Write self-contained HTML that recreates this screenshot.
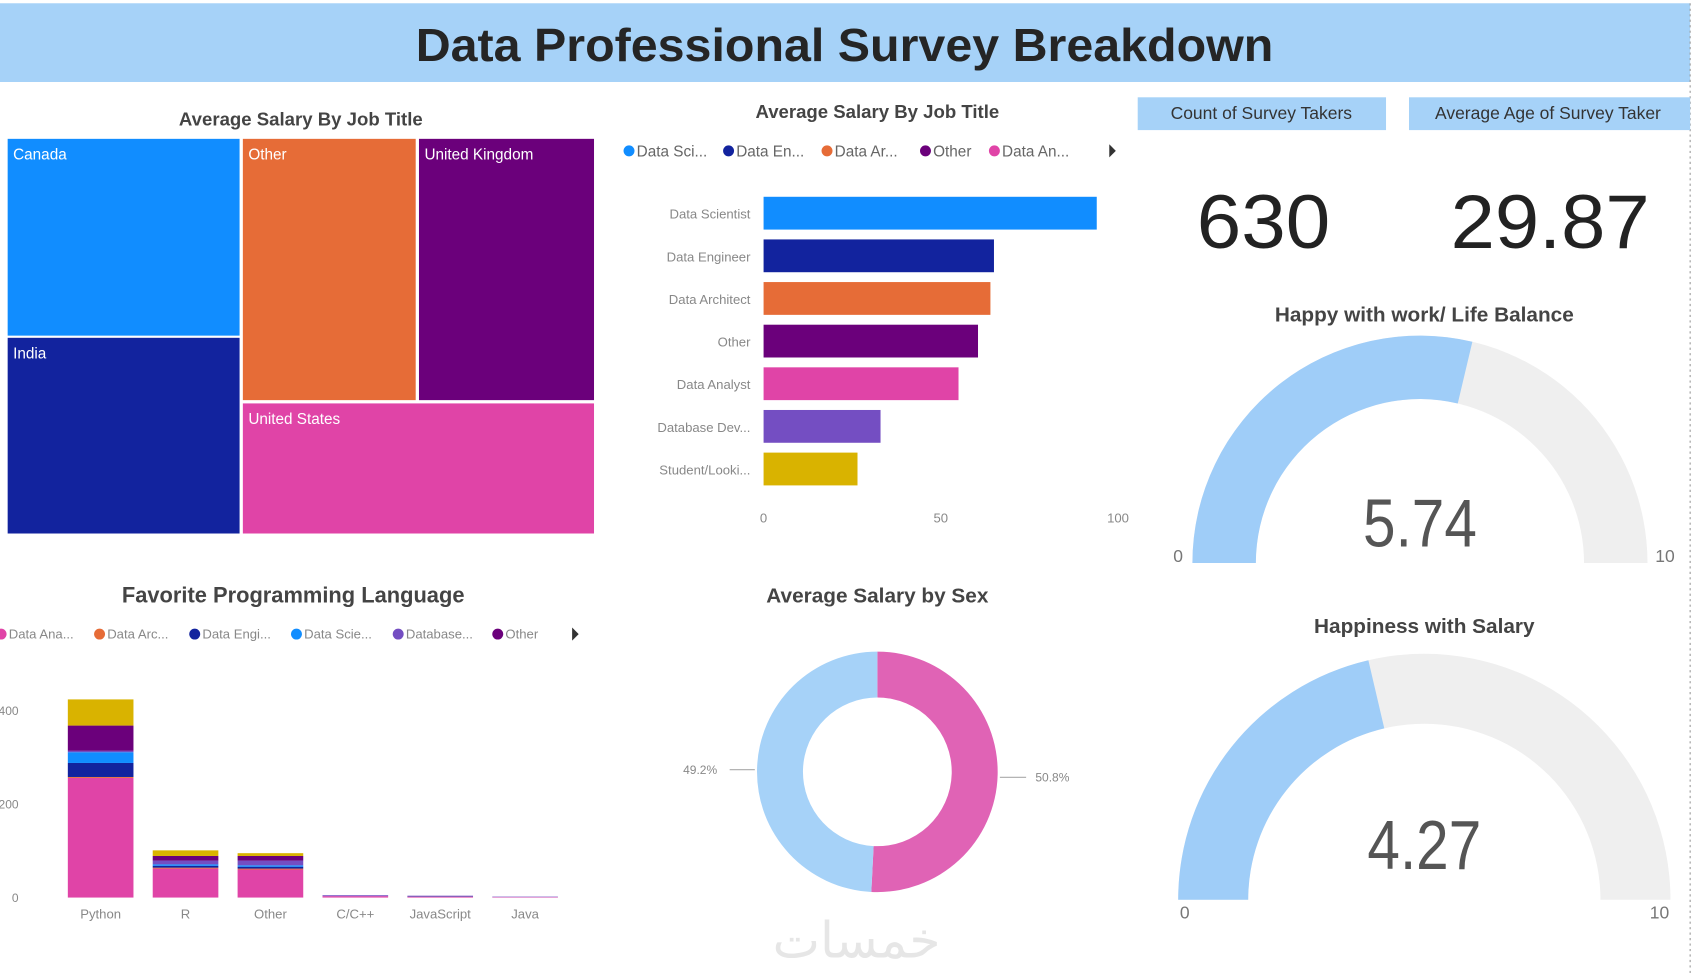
<!DOCTYPE html>
<html><head><meta charset="utf-8"><style>
html,body{margin:0;padding:0;background:#fff;width:1700px;height:973px;overflow:hidden}
svg{display:block}
text{font-family:"Liberation Sans Narrow","Liberation Sans","DejaVu Sans",sans-serif}
</style></head><body>
<svg id="dash" width="1700" height="973" viewBox="0 0 1554 890" preserveAspectRatio="none">
<rect x="0" y="3" width="1545" height="72" fill="#a6d2f8"/>
<text x="772" y="56" text-anchor="middle" font-size="42" font-weight="bold" fill="#252525" textLength="784" lengthAdjust="spacingAndGlyphs">Data Professional Survey Breakdown</text>
<line x1="1545" y1="3" x2="1545" y2="890" stroke="#999" stroke-dasharray="2,3"/>

<g id="treemap">
<text x="275" y="115" text-anchor="middle" font-size="17" font-weight="bold" fill="#444">Average Salary By Job Title</text>
</g>
<g id="hbar">
<text x="802" y="108" text-anchor="middle" font-size="17" font-weight="bold" fill="#444">Average Salary By Job Title</text>
</g>

<rect x="1040" y="89" width="227" height="30" fill="#a6d2f8"/>
<text x="1153" y="109" text-anchor="middle" font-size="16" fill="#333">Count of Survey Takers</text>
<rect x="1288" y="89" width="257" height="30" fill="#a6d2f8"/>
<text x="1415" y="109" text-anchor="middle" font-size="16" fill="#333">Average Age of Survey Taker</text>
<text x="1155" y="227" text-anchor="middle" font-size="70" fill="#222" textLength="122" lengthAdjust="spacingAndGlyphs">630</text>
<text x="1417" y="227" text-anchor="middle" font-size="70" fill="#222" textLength="182" lengthAdjust="spacingAndGlyphs">29.87</text>

<g id="gauges"></g>
<g id="donut">
<text x="802" y="551" text-anchor="middle" font-size="19" font-weight="bold" fill="#444">Average Salary by Sex</text>
</g>
<g id="stack">
<text x="268" y="551" text-anchor="middle" font-size="20" font-weight="bold" fill="#444">Favorite Programming Language</text>
</g>
<text x="783" y="876" text-anchor="middle" font-size="46" fill="#e6e6e6" font-family="DejaVu Sans, sans-serif">خمسات</text>
</svg>
<script>
const NS="http://www.w3.org/2000/svg";
function mk(parent,tag,attrs,txt){const e=document.createElementNS(NS,tag);for(const k in attrs)e.setAttribute(k,attrs[k]);if(txt!=null)e.textContent=txt;parent.appendChild(e);return e;}

// Treemap data
const tmLabels=["Canada","India","Other","United Kingdom","United States"];
const tmColors=["#118DFF","#12239E","#E66C37","#6B007B","#E044A7"];
// Bar data
const barCats=["Data Scientist","Data Engineer","Data Architect","Other","Data Analyst","Database Dev...","Student/Looki..."];
const barVals=[94,65,64,60.5,55,33,26.5];
const barColors=["#118DFF","#12239E","#E66C37","#6B007B","#E044A7","#744EC2","#D9B300"];
const barTicks=[0,50,100];
const barLegend=["Data Sci...","Data En...","Data Ar...","Other","Data An..."];
// Gauges
const gaugeTitles=["Happy with work/ Life Balance","Happiness with Salary"];
const gaugeVals=[5.74,4.27];
const gaugeMax=[10,10];
// Donut
const sexLabels=["50.8%","49.2%"];
const sexVals=[50.8,49.2];
// Stacked (one array per series, values per language)
const langCats=["Python","R","Other","C/C++","JavaScript","Java"];
const stackSeries=["Data Ana...","Data Arc...","Data Engi...","Data Scie...","Database...","Other","Student"];
const stackColors=["#E044A7","#E66C37","#12239E","#118DFF","#744EC2","#6B007B","#D9B300"];
const sAnalyst=[256,62,60,3,2,1];
const sArchitect=[2,2,2,0,0,0];
const sEngineer=[30,4,4,0,1,0];
const sScientist=[23,3,3,0,0,0];
const sDatabase=[3,8,10,2,1,1];
const sOther=[54,10,10,0,0,0];
const sStudent=[56,12,6,0,0,0];
const stackTicks=[0,200,400];

(function(){
 const g=document.getElementById('treemap');
 const X0=7,Y0=127,X1=543,Y1=488;
 const rects=[[X0,Y0,219,307],[X0,309,219,Y1],[222,Y0,380,366],[383,Y0,X1,366],[222,369,X1,Y1]];
 tmLabels.forEach((l,i)=>{const r=rects[i];
  const e=mk(g,'rect',{x:r[0],y:r[1],width:r[2]-r[0],height:r[3]-r[1],fill:tmColors[i]});
  
  
  const t=mk(g,'text',{x:r[0]+5,y:r[1]+19,'font-size':14,fill:'#fff'},l);
  
  
 });
})();

(function(){
 const g=document.getElementById('hbar');
 const x0=698,scale=(1022-698)/100;
 const xs=v=>x0+v*scale, yc=i=>195+i*39;
 const lx=[570,661,751,841,904];
 barLegend.forEach((l,i)=>{
  const c=mk(g,'circle',{cx:lx[i]+5,cy:138,r:5,fill:barColors[i]});
  
  
  const t=mk(g,'text',{x:lx[i]+12,y:143,'font-size':14,fill:'#666'},l);
  
  
 });
 const ar=mk(g,'path',{d:'M1014,132 L1020,138 L1014,144 Z',fill:'#333'});
 
 
 barCats.forEach((c,i)=>{
  const b=mk(g,'rect',{x:x0,y:yc(i)-15,width:xs(barVals[i])-x0,height:30,fill:barColors[i]});
  
  
  const t=mk(g,'text',{x:686,y:yc(i)+5,'text-anchor':'end','font-size':12,fill:'#888'},c);
  
  
 });
 barTicks.forEach(v=>{
  const t=mk(g,'text',{x:xs(v),y:478,'text-anchor':'middle','font-size':12,fill:'#888'},v);
  
  
 });
})();

(function(){
 const g=document.getElementById('gauges');
 const geo=[{cx:1298,cy:515,R:208,w:58,ty:294,vy:500,vs:62,l0:1077,l1:1522,ly:514},
            {cx:1302,cy:823,R:225,w:64,ty:579,vy:795,vs:64,l0:1083,l1:1517,ly:840}];
 function band(cx,cy,R,r,f0,f1){
  const p=(rad,f)=>[cx-rad*Math.cos(Math.PI*f),cy-rad*Math.sin(Math.PI*f)];
  const a=p(R,f0),b=p(R,f1),c=p(r,f1),d=p(r,f0);
  return `M${a[0]},${a[1]} A${R},${R} 0 0 1 ${b[0]},${b[1]} L${c[0]},${c[1]} A${r},${r} 0 0 0 ${d[0]},${d[1]} Z`;
 }
 gaugeVals.forEach((v,i)=>{
  const o=geo[i],f=v/gaugeMax[i];
  const t=mk(g,'text',{x:1302,y:o.ty,'text-anchor':'middle','font-size':19,'font-weight':'bold',fill:'#444'},gaugeTitles[i]);
  
  
  const bg=mk(g,'path',{d:band(o.cx,o.cy,o.R,o.R-o.w,0,1),fill:'#efefef'});
  
  
  const fg=mk(g,'path',{d:band(o.cx,o.cy,o.R,o.R-o.w,0,f),fill:'#9fcdf8'});
  
  
  const vt=mk(g,'text',{x:o.cx,y:o.vy,'text-anchor':'middle','font-size':o.vs,fill:'#555',textLength:104,lengthAdjust:'spacingAndGlyphs'},v.toFixed(2));
  
  
  const a=mk(g,'text',{x:o.l0,y:o.ly,'text-anchor':'middle','font-size':16,fill:'#777'},'0');
  
  
  const b=mk(g,'text',{x:o.l1,y:o.ly,'text-anchor':'middle','font-size':16,fill:'#777'},String(gaugeMax[i]));
  
  
 });
})();

(function(){
 const g=document.getElementById('donut');
 const cx=802,cy=706,R=110,r=68,cols=["#E063B5","#a6d2f8"];
 const tot=sexVals.reduce((a,b)=>a+b,0);let acc=0;
 sexVals.forEach((v,i)=>{
  const a0=acc/tot*2*Math.PI,a1=(acc+v)/tot*2*Math.PI;acc+=v;
  const P=(rad,a)=>[cx+rad*Math.sin(a),cy-rad*Math.cos(a)];
  const p1=P(R,a0),p2=P(R,a1),p3=P(r,a1),p4=P(r,a0),lg=(a1-a0)>Math.PI?1:0;
  const s=mk(g,'path',{d:`M${p1[0]},${p1[1]} A${R},${R} 0 ${lg} 1 ${p2[0]},${p2[1]} L${p3[0]},${p3[1]} A${r},${r} 0 ${lg} 0 ${p4[0]},${p4[1]} Z`,fill:cols[i]});
  
  
 });
 const l1=mk(g,'line',{x1:667,y1:704,x2:690,y2:704,stroke:'#aaa'});
 
 
 const l2=mk(g,'line',{x1:914,y1:711,x2:938,y2:711,stroke:'#aaa'});
 
 
 const t1=mk(g,'text',{x:640,y:708,'text-anchor':'middle','font-size':11,fill:'#888'},sexLabels[1]);
 
 
 const t2=mk(g,'text',{x:962,y:715,'text-anchor':'middle','font-size':11,fill:'#888'},sexLabels[0]);
 
 
})();

(function(){
 const g=document.getElementById('stack');
 const series=[sAnalyst,sArchitect,sEngineer,sScientist,sDatabase,sOther,sStudent];
 const y0=821,scale=(821-650)/400;
 const ys=v=>y0-v*scale, xc=i=>92+i*77.6;
 const lx=[-4,86,173,266,359,450];
 stackSeries.slice(0,6).forEach((l,i)=>{
  const c=mk(g,'circle',{cx:lx[i]+5,cy:580,r:5,fill:stackColors[i]});
  
  
  const t=mk(g,'text',{x:lx[i]+12,y:584,'font-size':12,fill:'#888'},l);
  
  
 });
 const ar=mk(g,'path',{d:'M523,574 L529,580 L523,586 Z',fill:'#333'});
 
 
 stackTicks.forEach(v=>{
  const t=mk(g,'text',{x:17,y:ys(v)+4,'text-anchor':'end','font-size':11,fill:'#888'},v);
  
  
 });
 langCats.forEach((c,i)=>{
  let acc=0;
  series.forEach((s,k)=>{
   const v=s[i];if(!v)return;
   const r=mk(g,'rect',{x:xc(i)-30,y:ys(acc+v),width:60,height:v*scale,fill:stackColors[k]});
   
   
   acc+=v;
  });
  const t=mk(g,'text',{x:xc(i),y:840,'text-anchor':'middle','font-size':12,fill:'#888'},c);
  
  
 });
})();
</script>
</body></html>
